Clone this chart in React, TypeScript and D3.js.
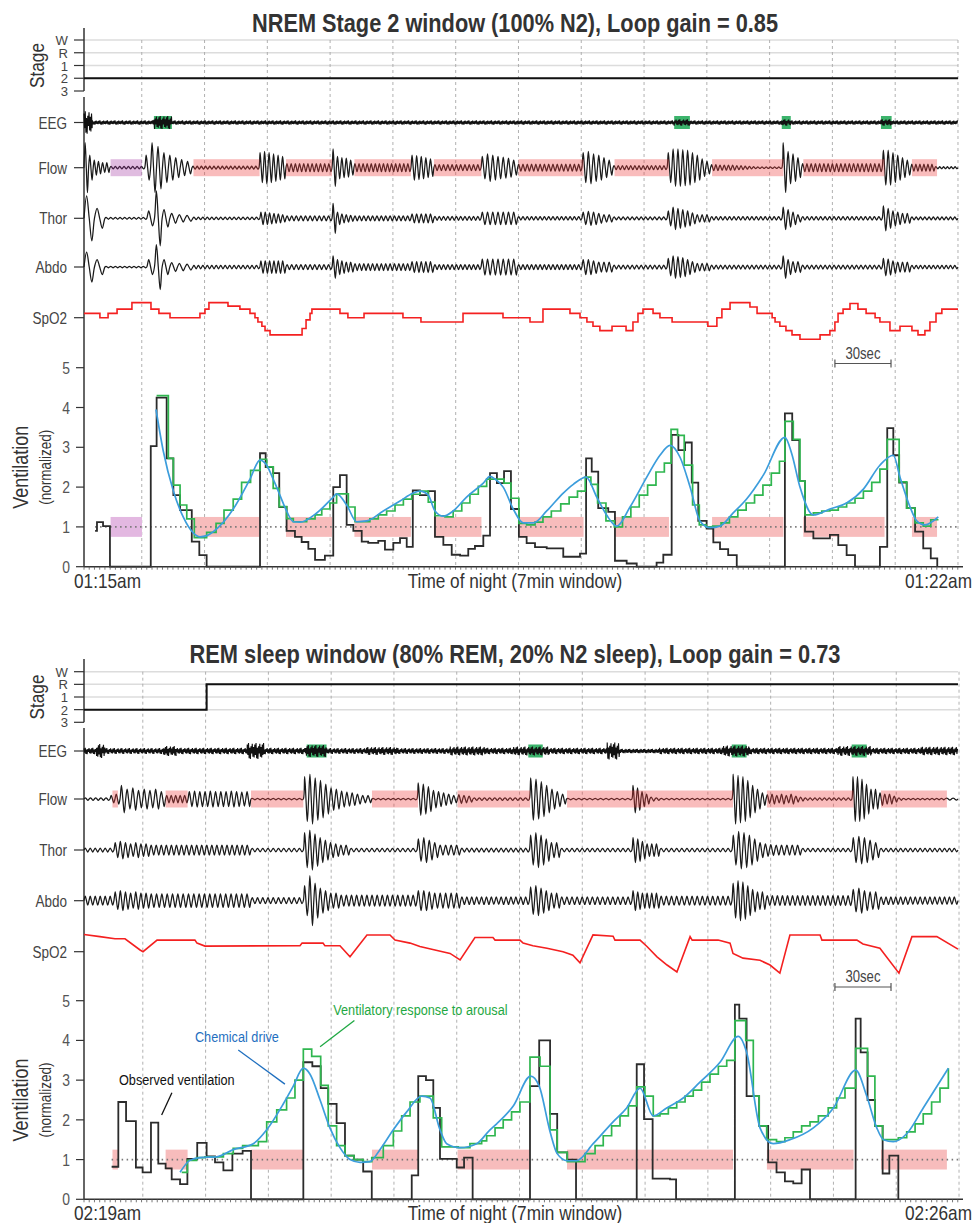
import React from 'react';
import * as d3 from 'd3';

// ---------- shared ----------
const STAGES = ['W', 'R', '1', '2', '3'];
const ROWS = ['EEG', 'Flow', 'Thor', 'Abdo', 'SpO2'];
const VENT_TICKS = [0, 1, 2, 3, 4, 5];

type Pt = [number, number];
type Seg = [number, number, number, number[]]; // start s, end s, breath period s, amplitudes
type Env = [number, number, number]; // start s, end s, amplitude

// ---------- NREM window (01:15 - 01:22) ----------
const nremTitle = 'NREM Stage 2 window (100% N2), Loop gain = 0.85';
const nremClock = ['01:15am', '01:22am'];
const nremGrid = [27.6, 57.6, 87.6, 117.6, 147.6, 177.6, 207.6, 237.6, 267.6, 297.6, 327.6, 357.6, 387.6, 417.6];
const nremStage: [number, string][] = [[0, '2'], [417.6, '2']];
const nremArousals: Pt[] = [[33.4, 42.0], [282.0, 289.5], [333.4, 337.7], [380.8, 385.9]];
const nremPurple: Pt[] = [[12.7, 27.7]];
const nremEvents: Pt[] = [[52.3, 83.9], [96.5, 118.5], [129.2, 156.2], [167.2, 189.9], [207.6, 238.7], [253.5, 279.5], [300.1, 334.2], [343.7, 382.5], [395.6, 407.6]];
const nremEEG: Env[] = [[0, 4, 0.45], [4, 33.4, 0.085], [33.4, 42, 0.26], [42, 282, 0.085], [282, 289.5, 0.13], [289.5, 333.4, 0.085], [333.4, 337.7, 0.13], [337.7, 380.8, 0.085], [380.8, 385.9, 0.13], [385.9, 417.6, 0.085]];
const nremFlow: Seg[] = [
  [0, 4.4, 2.2, [1.0, 0.5]], [4.4, 12.4, 2.2, [0.3, 0.25, 0.2]], [12.4, 29.0, 2.0, [0.05]],
  [29.0, 51.6, 2.8, [0.5, 1.0, 0.85, 0.6, 0.5, 0.4, 0.32, 0.25]], [51.6, 83.6, 2.0, [0.06]],
  [83.6, 96.5, 2.1, [0.6, 0.65, 0.6, 0.55, 0.5, 0.45]], [96.5, 118.5, 2.0, [0.16]],
  [118.5, 129.0, 2.1, [0.75, 0.45, 0.4, 0.38, 0.3]], [129.0, 156.2, 2.0, [0.16]],
  [156.2, 167.2, 2.2, [0.5, 0.48, 0.45, 0.4, 0.35]], [167.2, 189.7, 2.0, [0.12]],
  [189.7, 207.2, 2.5, [0.45, 0.55, 0.5, 0.45, 0.42, 0.38, 0.3]], [207.2, 237.9, 2.0, [0.14]],
  [237.9, 252.8, 2.4, [0.6, 0.65, 0.55, 0.5, 0.4, 0.3]], [252.8, 278.6, 2.0, [0.08]],
  [278.6, 299.4, 2.3, [0.6, 0.75, 0.75, 0.72, 0.7, 0.6, 0.5, 0.35, 0.25]],
  [299.4, 333.5, 2.0, [0.12, 0.12, 0.1, 0.1, 0.1, 0.1, 0.08, 0.08, 0.06, 0.05, 0.04, 0.03]],
  [333.5, 342.9, 2.4, [1.0, 0.65, 0.55, 0.4]], [342.9, 381.4, 2.0, [0.16]],
  [381.4, 395.1, 2.3, [0.7, 0.7, 0.6, 0.5, 0.4, 0.3]], [395.1, 406.6, 2.0, [0.14]], [406.6, 417.6, 2.0, [0.04]],
];
const nremThor: Seg[] = [
  [0, 10, 5, [0.9, 0.4]], [10, 30, 2.2, [0.04]], [30, 52, 3.4, [0.3, 1.1, 0.35, 0.2, 0.15, 0.12]],
  [52, 84, 2.2, [0.05]], [84, 96.5, 2.1, [0.25, 0.25, 0.22, 0.2, 0.18, 0.15]], [96.5, 118.5, 2.1, [0.1]],
  [118.5, 129, 2.1, [0.6, 0.25, 0.18, 0.15, 0.12]], [129, 156.2, 2.1, [0.1]], [156.2, 167.2, 2.2, [0.18]],
  [167.2, 189.7, 2.1, [0.08]], [189.7, 207.2, 2.5, [0.25]], [207.2, 237.9, 2.1, [0.07]],
  [237.9, 252.8, 2.4, [0.25, 0.28, 0.25, 0.2, 0.15]], [252.8, 278.6, 2.1, [0.06]],
  [278.6, 299.4, 2.4, [0.3, 0.45, 0.4, 0.35, 0.3, 0.22, 0.15]], [299.4, 333.5, 2.1, [0.07]],
  [333.5, 342.9, 2.4, [0.45, 0.35, 0.25, 0.15]], [342.9, 381.4, 2.1, [0.07]],
  [381.4, 395.1, 2.3, [0.5, 0.4, 0.3, 0.25, 0.2]], [395.1, 417.6, 2.1, [0.06]],
];
const nremAbdo: Seg[] = [
  [0, 10, 5, [0.6, 0.3]], [10, 30, 2.2, [0.03]], [30, 52, 3.4, [0.3, 0.9, 0.3, 0.18, 0.15, 0.12]],
  [52, 84, 2.1, [0.07]], [84, 96.5, 2.1, [0.25]], [96.5, 118.5, 2.1, [0.1]],
  [118.5, 129, 2.1, [0.45, 0.3, 0.25, 0.2]], [129, 156.2, 2.1, [0.14]], [156.2, 167.2, 2.2, [0.22]],
  [167.2, 189.7, 2.1, [0.1]], [189.7, 207.2, 2.5, [0.32]], [207.2, 237.9, 2.1, [0.1]],
  [237.9, 252.8, 2.4, [0.3, 0.3, 0.25, 0.2]], [252.8, 278.6, 2.1, [0.08]],
  [278.6, 299.4, 2.4, [0.35, 0.45, 0.42, 0.38, 0.3, 0.22, 0.15]], [299.4, 333.5, 2.1, [0.08]],
  [333.5, 342.9, 2.4, [0.45, 0.3, 0.22]], [342.9, 381.4, 2.1, [0.08]],
  [381.4, 395.1, 2.3, [0.35, 0.32, 0.25, 0.2]], [395.1, 417.6, 2.1, [0.07]],
];
const nremSpO2: Pt[] = [[0, 95], [7.6, 94], [11.5, 95], [15.8, 96], [22.9, 97.5], [32.0, 96], [35.8, 95], [41.1, 94], [55.4, 95], [57.8, 96], [59.7, 97.5], [68.8, 96.7], [74.5, 96], [79.3, 95], [81.7, 94], [83.1, 93], [85.0, 92], [86.5, 91], [88.9, 90], [104.2, 91.5], [106.1, 93.5], [108.0, 95], [108.9, 96], [122.3, 95], [126.1, 94], [133.8, 95], [152.4, 94], [161.0, 93], [181.1, 95], [200.2, 94], [213.1, 93], [219.3, 96], [232.2, 95], [237.0, 94], [240.3, 93], [243.2, 92], [246.5, 91], [252.3, 92], [259.0, 91], [262.3, 93], [264.7, 95], [267.1, 96], [271.9, 95], [275.2, 94], [281.0, 93], [298.1, 92], [302.4, 94], [304.8, 96], [308.7, 97.5], [318.2, 96.5], [321.6, 95], [328.8, 94], [330.2, 93], [332.5, 92], [335.4, 91], [338.3, 90], [342.1, 89], [351.7, 90], [356.4, 91], [358.8, 93], [360.3, 95], [362.7, 96], [366.0, 97.3], [369.8, 96], [373.7, 95], [378.0, 94], [380.3, 93], [385.1, 91], [389.9, 92], [395.6, 91], [398.5, 90], [401.8, 91], [404.2, 93], [407.1, 95], [409.9, 96], [417.6, 96]];
const nremObserved: Pt[] = [[5.3, 0.9], [6.2, 1.12], [9.1, 1.02], [12.4, 0], [31.9, 3.03], [34.7, 4.25], [39.5, 2.72], [42.7, 1.8], [45.9, 1.42], [51.5, 0.63], [55.1, 0.29], [58.6, 0], [84.1, 2.85], [86.8, 2.5], [90.4, 2.35], [93.3, 1.5], [96.8, 0.9], [100.8, 0.75], [104.0, 0.62], [107.2, 0.45], [110.4, 0.17], [115.1, 0.28], [119.1, 2.0], [122.3, 2.3], [125.5, 1.05], [128.7, 0.9], [132.7, 0.63], [135.8, 0.6], [140.6, 0.65], [143.8, 0.43], [147.8, 0.6], [151.0, 0.72], [154.2, 0.5], [157.1, 1.92], [160.5, 1.8], [164.5, 1.9], [167.7, 0.75], [171.7, 0.55], [175.7, 0.3], [179.7, 0.28], [183.6, 0.45], [186.8, 0.52], [190.8, 0.78], [194.0, 2.35], [197.3, 2.1], [200.7, 2.4], [204.0, 1.45], [207.8, 0.75], [211.5, 0.59], [215.5, 0.49], [221.1, 0.46], [229.0, 0.25], [237.0, 0.33], [239.9, 2.72], [242.6, 2.39], [245.7, 1.47], [250.5, 1.38], [253.7, 0.15], [259.3, 0.08], [264.1, 0], [273.6, 0.1], [276.8, 0.3], [280.8, 3.31], [284.0, 2.93], [287.2, 3.12], [290.4, 2.11], [293.5, 1.15], [297.5, 0.96], [300.7, 0.61], [303.9, 0.44], [307.8, 0.29], [311.9, 0], [334.9, 3.85], [338.4, 3.18], [341.8, 2.15], [344.5, 0.88], [348.5, 0.71], [356.4, 0.8], [360.4, 0.54], [364.4, 0.29], [368.4, 0], [380.3, 0.5], [383.8, 3.48], [386.7, 2.8], [389.5, 2.11], [393.1, 1.47], [397.1, 0.88], [401.0, 0.46], [404.6, 0.21], [407.7, 0]];
const nremResponse: Pt[] = [[34.7, 4.3], [40.3, 2.72], [42.7, 2.05], [45.9, 1.55], [49.1, 1.2], [52.7, 0.73], [58.6, 0.86], [63.1, 1.09], [66.9, 1.42], [71.3, 1.7], [75.3, 2.12], [79.6, 2.42], [84.1, 2.7], [87.3, 2.51], [90.4, 1.97], [93.3, 1.51], [96.8, 1.21], [100.0, 1.13], [106.4, 1.2], [110.4, 1.3], [113.6, 1.45], [117.5, 1.6], [120.7, 1.83], [126.3, 1.5], [129.5, 1.13], [136.6, 1.2], [140.6, 1.3], [144.6, 1.4], [148.6, 1.55], [152.6, 1.7], [156.6, 1.82], [160.5, 1.9], [164.5, 1.62], [167.7, 1.28], [172.5, 1.25], [176.4, 1.4], [180.5, 1.6], [184.4, 1.82], [188.4, 2.02], [192.4, 2.2], [200.7, 2.1], [204.0, 1.72], [207.8, 1.09], [211.5, 1.05], [215.5, 1.12], [219.3, 1.25], [223.3, 1.4], [227.8, 1.58], [231.8, 1.75], [235.8, 1.9], [239.5, 2.25], [242.2, 2.07], [245.4, 1.6], [249.4, 1.15], [253.4, 1.0], [257.3, 1.25], [261.3, 1.5], [265.3, 1.8], [269.3, 2.05], [273.3, 2.38], [277.3, 2.6], [280.5, 3.45], [283.6, 3.3], [286.8, 2.55], [290.8, 1.55], [294.0, 1.05], [297.2, 1.0], [300.4, 1.02], [304.4, 1.1], [308.4, 1.25], [312.4, 1.42], [316.4, 1.6], [320.4, 1.8], [324.4, 2.05], [328.4, 2.35], [332.3, 2.65], [334.9, 3.65], [338.9, 3.2], [342.1, 2.15], [344.5, 1.3], [348.5, 1.35], [352.5, 1.4], [356.4, 1.42], [360.4, 1.5], [364.4, 1.6], [368.4, 1.72], [372.4, 1.9], [376.4, 2.12], [380.3, 2.45], [383.8, 3.2], [389.5, 2.13], [393.1, 1.47], [397.1, 1.1], [401.0, 1.02], [404.6, 1.18], [408.3, 1.18]];
const nremChemical: Pt[] = [[34.4, 3.95], [37.9, 2.9], [42.7, 1.9], [47.4, 1.25], [52.2, 0.85], [55.4, 0.75], [58.6, 0.78], [63.4, 0.95], [71.3, 1.45], [79.3, 2.2], [84.1, 2.68], [87.3, 2.55], [90.4, 2.2], [93.6, 1.8], [96.8, 1.4], [100.0, 1.13], [103.2, 1.12], [111.2, 1.35], [119.1, 1.75], [120.7, 1.83], [125.5, 1.55], [130.3, 1.13], [135.1, 1.15], [143.0, 1.4], [151.0, 1.65], [157.3, 1.85], [160.5, 1.9], [164.5, 1.8], [167.7, 1.4], [171.7, 1.27], [176.4, 1.4], [182.8, 1.75], [190.8, 2.1], [194.0, 2.27], [196.4, 2.2], [200.3, 2.0], [205.1, 1.45], [209.9, 1.1], [214.7, 1.1], [221.1, 1.4], [229.0, 1.85], [233.8, 2.07], [239.9, 2.25], [245.0, 1.75], [249.7, 1.3], [254.5, 1.02], [260.9, 1.5], [268.9, 2.25], [275.2, 2.8], [280.0, 3.05], [284.8, 2.75], [289.6, 2.0], [294.3, 1.15], [299.1, 0.98], [303.9, 1.02], [310.2, 1.35], [316.6, 1.7], [324.6, 2.3], [334.9, 3.25], [338.1, 2.85], [342.1, 2.0], [348.5, 1.3], [356.4, 1.45], [364.4, 1.6], [372.4, 1.95], [380.3, 2.55], [386.7, 2.8], [389.9, 2.25], [394.7, 1.5], [397.9, 1.15], [401.8, 1.05], [408.2, 1.25]];

// ---------- REM window (02:19 - 02:26) ----------
const remTitle = 'REM sleep window (80% REM, 20% N2 sleep), Loop gain = 0.73';
const remClock = ['02:19am', '02:26am'];
const remGrid = [28.1, 58.1, 88.1, 118.1, 148.1, 178.1, 208.1, 238.1, 268.1, 298.1, 328.1, 358.1, 388.1, 418.1];
const remStage: [number, string][] = [[0, '2'], [58.6, 'R'], [417.6, 'R']];
const remArousals: Pt[] = [[106.4, 115.9], [212.3, 219.2], [309.5, 316.6], [366.8, 374.0]];
const remPurple: Pt[] = [];
const remEvents: Pt[] = [[13.6, 16.2], [39.0, 49.5], [79.8, 104.8], [137.6, 159.6], [178.5, 213.1], [230.8, 310.1], [326.3, 367.7], [380.8, 412.3]];
const remEEG: Env[] = [[0, 6, 0.13], [6, 10, 0.28], [10, 38, 0.12], [38, 44, 0.2], [44, 78, 0.13], [78, 86, 0.32], [86, 106, 0.13], [106, 116, 0.24], [116, 135, 0.12], [135, 150, 0.16], [150, 175, 0.12], [175, 192, 0.18], [192, 205, 0.13], [205, 222, 0.18], [222, 250, 0.13], [250, 256, 0.34], [256, 275, 0.09], [275, 305, 0.13], [305, 318, 0.22], [318, 360, 0.13], [360, 376, 0.2], [376, 400, 0.13], [400, 417.6, 0.17]];
const remFlow: Seg[] = [
  [0, 12.4, 2.5, [0.05]], [12.4, 17.2, 2.4, [0.15, 0.2]],
  [17.2, 39.0, 2.6, [0.55, 0.4, 0.45, 0.35, 0.4, 0.35, 0.4, 0.3]], [39.0, 49.7, 2.2, [0.15]],
  [49.7, 79.8, 2.5, [0.3, 0.32, 0.3, 0.3, 0.32, 0.3, 0.3, 0.3, 0.32, 0.3, 0.28, 0.3]], [79.8, 104.8, 2.5, [0.03]],
  [104.8, 137.6, 2.6, [0.9, 1.0, 0.85, 0.75, 0.6, 0.45, 0.4, 0.32, 0.28, 0.25, 0.2, 0.15]], [137.6, 159.1, 2.5, [0.03]],
  [159.1, 178.5, 2.4, [0.65, 0.6, 0.5, 0.35, 0.3, 0.25, 0.2, 0.15]], [178.5, 212.8, 2.4, [0.18, 0.15, 0.12, 0.05]],
  [212.8, 230.6, 2.5, [0.85, 0.8, 0.7, 0.55, 0.4, 0.3, 0.2]], [230.6, 261.8, 2.5, [0.03]],
  [261.8, 270.4, 2.2, [0.55, 0.45, 0.3, 0.2]], [270.4, 309.6, 2.5, [0.08, 0.05, 0.03]],
  [309.6, 325.9, 2.3, [1.0, 0.95, 0.9, 0.75, 0.55, 0.4, 0.25]],
  [325.9, 366.9, 2.3, [0.18, 0.2, 0.15, 0.2, 0.15, 0.2, 0.12, 0.08, 0.05]],
  [366.9, 379.8, 2.3, [0.9, 0.9, 0.8, 0.6, 0.4]], [379.8, 411.4, 2.3, [0.25, 0.2, 0.2, 0.12, 0.05, 0.03]],
  [411.4, 417.6, 2.5, [0.04]],
];
const remThor: Seg[] = [
  [0, 14.3, 2.4, [0.08]], [14.3, 31.5, 2.6, [0.3, 0.35, 0.3, 0.25, 0.3, 0.25]], [31.5, 79.8, 2.4, [0.2]],
  [79.8, 104.8, 2.4, [0.07]], [104.8, 127.1, 2.6, [0.7, 0.8, 0.65, 0.5, 0.4, 0.3, 0.25, 0.2]],
  [127.1, 159.1, 2.4, [0.07]], [159.1, 180, 2.5, [0.45, 0.5, 0.4, 0.3, 0.2]], [180, 212.8, 2.4, [0.08]],
  [212.8, 227.7, 2.5, [0.6, 0.7, 0.6, 0.45, 0.3]], [227.7, 261.8, 2.4, [0.07]],
  [261.8, 275.2, 2.4, [0.5, 0.45, 0.35, 0.25]], [275.2, 309.6, 2.4, [0.07]],
  [309.6, 342.9, 2.5, [0.6, 0.75, 0.7, 0.6, 0.45, 0.3, 0.25, 0.22, 0.2]], [342.9, 366.9, 2.4, [0.07]],
  [366.9, 380.3, 2.5, [0.5, 0.55, 0.5, 0.4, 0.3]], [380.3, 417.6, 2.4, [0.07]],
];
const remAbdo: Seg[] = [
  [0, 14.3, 2.4, [0.18]], [14.3, 31.5, 2.6, [0.35, 0.4, 0.35, 0.3, 0.35, 0.3]], [31.5, 79.8, 2.5, [0.27]],
  [79.8, 104.8, 2.4, [0.12]], [104.8, 122.3, 2.6, [0.6, 1.0, 0.7, 0.5, 0.4, 0.3]], [122.3, 159.1, 2.5, [0.22]],
  [159.1, 180, 2.5, [0.4, 0.4, 0.35, 0.3]], [180, 212.8, 2.4, [0.15]],
  [212.8, 227.7, 2.5, [0.55, 0.6, 0.5, 0.4, 0.3]], [227.7, 261.8, 2.4, [0.15]],
  [261.8, 275.2, 2.4, [0.4, 0.35, 0.3]], [275.2, 309.6, 2.4, [0.18]],
  [309.6, 325.9, 2.5, [0.7, 0.8, 0.75, 0.6, 0.45, 0.35]], [325.9, 366.9, 2.4, [0.2]],
  [366.9, 380.3, 2.5, [0.45, 0.5, 0.4, 0.35]], [380.3, 417.6, 2.4, [0.15]],
];
const remSpO2: Pt[] = [[0, 98.0], [7.6, 97.5], [14.8, 97.0], [19.6, 97.0], [26.8, 94.4], [28.2, 94.0], [34.9, 96.7], [53.0, 96.7], [54.0, 96.0], [57.8, 95.3], [103.2, 95.4], [104.2, 96.0], [114.2, 96.0], [115.1, 95.4], [122.3, 95.4], [127.1, 92.8], [135.2, 97.9], [146.2, 97.9], [148.6, 96.7], [155.8, 96.0], [160.5, 95.2], [167.7, 94.4], [174.9, 93.6], [179.7, 92.1], [186.8, 97.3], [195.4, 97.3], [196.4, 96.7], [208.3, 96.7], [209.8, 96.0], [214.5, 95.4], [221.2, 94.8], [228.9, 94.0], [233.6, 93.2], [237.0, 91.4], [243.2, 97.9], [252.8, 97.6], [253.7, 96.7], [265.7, 96.7], [269.0, 95.2], [273.8, 92.8], [278.6, 90.9], [283.3, 89.3], [289.6, 97.5], [290.6, 96.7], [303.0, 96.7], [308.7, 96.0], [310.1, 93.6], [314.9, 92.5], [323.0, 92.0], [327.8, 90.9], [332.5, 89.0], [337.3, 97.9], [351.7, 97.9], [352.6, 96.7], [369.3, 96.7], [372.2, 95.8], [380.3, 94.8], [389.4, 89.0], [395.6, 97.5], [407.5, 97.5], [417.6, 94.6]];
const remObserved: Pt[] = [[13.2, 0.82], [16.4, 2.45], [20.1, 1.97], [24.8, 0.8], [28.0, 0.68], [32.0, 1.93], [35.5, 0.9], [39.0, 0.78], [41.9, 0.5], [45.9, 0.38], [49.4, 1.02], [54.1, 1.42], [58.6, 1.08], [62.6, 0.93], [66.6, 0.73], [70.9, 1.15], [75.8, 1.22], [79.8, 0], [104.8, 3.45], [109.1, 3.35], [113.1, 2.8], [116.7, 2.4], [120.7, 1.92], [124.7, 1.1], [129.0, 1.0], [133.4, 0.7], [137.5, 0], [156.6, 0.6], [159.7, 3.1], [163.4, 3.0], [166.9, 2.3], [170.1, 1.02], [178.1, 0.8], [181.6, 1.05], [185.7, 0], [213.1, 2.85], [217.5, 4.0], [222.7, 2.15], [226.1, 1.18], [230.9, 1.0], [235.1, 0], [264.1, 3.4], [267.6, 2.02], [271.7, 0.52], [280.0, 0.5], [282.9, 0], [311.0, 4.9], [313.1, 4.55], [316.6, 2.6], [322.6, 1.85], [326.9, 0.93], [330.9, 0.68], [334.9, 0.45], [338.9, 0.4], [342.9, 0.75], [346.9, 0], [368.7, 4.55], [371.1, 3.7], [374.4, 2.5], [377.9, 1.85], [381.6, 0.65], [384.8, 1.1], [389.1, 0]];
const remResponse: Pt[] = [[46.7, 0.68], [49.4, 0.98], [53.8, 1.05], [57.8, 1.07], [66.6, 1.15], [71.3, 1.28], [75.8, 1.35], [83.3, 1.45], [87.3, 1.95], [92.1, 2.25], [96.8, 2.55], [100.8, 3.0], [104.8, 3.78], [108.8, 3.6], [113.1, 2.87], [116.7, 1.85], [120.7, 1.35], [124.7, 1.1], [129.0, 1.0], [133.4, 0.95], [137.5, 1.05], [143.0, 1.35], [147.8, 1.72], [151.8, 2.1], [155.8, 2.45], [160.5, 2.6], [166.9, 2.05], [170.9, 1.32], [178.8, 1.3], [184.4, 1.4], [190.0, 1.47], [192.4, 1.6], [196.4, 1.8], [200.3, 2.0], [204.3, 2.2], [208.3, 2.45], [213.1, 3.58], [217.9, 3.35], [222.7, 1.75], [226.1, 1.18], [230.9, 0.95], [239.4, 1.15], [244.2, 1.35], [248.1, 1.6], [252.1, 1.85], [256.1, 2.1], [260.1, 2.35], [264.1, 2.83], [268.0, 2.6], [272.0, 2.1], [275.2, 2.15], [279.2, 2.3], [283.2, 2.45], [287.2, 2.6], [291.1, 2.75], [295.1, 2.95], [299.1, 3.15], [303.1, 3.35], [307.1, 3.5], [311.0, 4.5], [316.2, 4.0], [319.8, 2.6], [322.6, 1.85], [326.2, 1.5], [330.9, 1.45], [334.9, 1.55], [338.9, 1.7], [342.9, 1.85], [346.9, 1.95], [350.9, 2.1], [355.6, 2.3], [359.6, 2.55], [363.6, 2.8], [368.7, 3.8], [374.4, 3.1], [377.9, 1.85], [381.6, 1.5], [389.1, 1.55], [393.1, 1.7], [397.1, 1.9], [401.0, 2.15], [405.0, 2.45], [409.0, 2.8], [413.0, 3.3]];
const remChemical: Pt[] = [[45.9, 0.68], [50.6, 0.98], [55.4, 1.05], [63.4, 1.07], [71.3, 1.25], [80.9, 1.4], [87.3, 1.75], [95.2, 2.4], [100.0, 2.85], [104.8, 3.3], [108.0, 3.15], [112.8, 2.5], [117.5, 1.8], [122.3, 1.3], [127.1, 1.0], [131.9, 0.93], [136.6, 0.95], [141.4, 1.25], [147.8, 1.75], [154.2, 2.2], [161.3, 2.6], [165.3, 2.55], [170.1, 1.75], [173.3, 1.4], [179.7, 1.3], [187.6, 1.4], [194.0, 1.75], [197.2, 1.9], [205.1, 2.35], [213.4, 3.1], [217.5, 2.85], [222.7, 1.7], [226.1, 1.15], [230.9, 0.97], [235.3, 0.97], [243.3, 1.4], [252.8, 1.95], [259.3, 2.3], [265.7, 2.8], [272.0, 2.1], [278.4, 2.3], [286.3, 2.55], [294.3, 2.95], [303.9, 3.45], [312.6, 4.1], [316.6, 3.7], [323.0, 1.8], [329.3, 1.4], [337.3, 1.5], [348.5, 1.8], [358.1, 2.3], [368.7, 3.25], [374.0, 2.6], [378.8, 1.8], [382.0, 1.5], [386.7, 1.45], [393.1, 1.65], [401.0, 2.3], [413.0, 3.3]];
// annotation callouts: label, text start (s, vent), pointer from, pointer to
const remNotes: { label: string; color: string; at: Pt; from: Pt; to: Pt }[] = [
  { label: 'Ventilatory response to arousal', color: '#1fa843', at: [119.1, 4.64], from: [129.2, 4.5], to: [112.8, 3.84] },
  { label: 'Chemical drive', color: '#1f6fbf', at: [53.0, 3.97], from: [73.7, 3.76], to: [96.0, 2.9] },
  { label: 'Observed ventilation', color: '#111', at: [16.7, 2.88], from: [42.0, 2.68], to: [37.1, 2.12] },
];
const scaleBar: Pt = [358.8, 385.6];

// ---------- layout (pixels) ----------
const LAYOUTS = [
  { title: 32, stageTop: 40, stageBot: 91, stageAxisTop: 28, rows: [122.5, 167.7, 218.3, 267, 317.7], traceTop: 97, v0: 566.7, v5: 367.7, bar: 363.5, xlab: 588, titleW: 526 },
  { title: 662.5, stageTop: 671.7, stageBot: 722.3, stageAxisTop: 659, rows: [751, 799, 850, 900.7, 951.7], traceTop: 728, v0: 1199.3, v5: 1000.7, bar: 987, xlab: 1220, titleW: 651 },
];

const FONT = "'Liberation Sans', Arial, sans-serif";
const NARROW = 0.82; // the figure uses a condensed face
const x = d3.scaleLinear().domain([0, 420]).range([84, 963]);

const EEG_SHAPE = [0.8, -0.5, 1, -0.9, 0.4, -1, 0.6, -0.3, 0.9, -0.7, 0.5, -0.8];

function breathPts(segs: Seg[]): Pt[] {
  const pts: Pt[] = [];
  for (const [t0, t1, p, amps] of segs) {
    const n = Math.max(1, Math.round((t1 - t0) / p));
    const d = (t1 - t0) / n;
    for (let i = 0; i < n; i++) {
      const a = amps[Math.min(i, amps.length - 1)];
      const s = t0 + i * d;
      pts.push([s, 0], [s + d * 0.25, a], [s + d * 0.5, 0], [s + d * 0.75, -a]);
    }
  }
  pts.push([segs[segs.length - 1][1], 0]);
  return pts;
}

function eegPts(env: Env[]): Pt[] {
  const pts: Pt[] = [];
  let k = 0;
  for (const [t0, t1, a] of env) {
    for (let t = t0; t < t1; t += 0.3) {
      pts.push([t, a * EEG_SHAPE[k % EEG_SHAPE.length]]);
      k++;
    }
  }
  return pts;
}

// condensed text
function T({ x, y, rot = 0, anchor = 'start', size, fill = '#333', weight, len, sy = 1, children }: any) {
  return (
    <text transform={`translate(${x},${y}) rotate(${rot}) scale(${NARROW},${sy})`} textAnchor={anchor} fontSize={size}
      fill={fill} fontWeight={weight} textLength={len ? len / NARROW : undefined} lengthAdjust={len ? 'spacingAndGlyphs' : undefined}>
      {children}
    </text>
  );
}

function Panel({ L, d }: { L: any; d: any }) {
  const yS = d3.scalePoint<string>().domain(STAGES).range([L.stageTop, L.stageBot]);
  const yV = d3.scaleLinear().domain([0, 5]).range([L.v0, L.v5]);
  const rowScale = (i: number) => d3.scaleLinear().domain([-1, 1]).range([L.rows[i] + 25, L.rows[i] - 25]);
  const ySp = d3.scaleLinear().domain([94, 100]).range([L.rows[4], L.rows[4] - 25.8]);

  const rowLine = (i: number) => d3.line<Pt>().x(p => x(p[0])).y(p => rowScale(i)(p[1])).curve(d3.curveCatmullRom.alpha(0.5));
  const eegLine = d3.line<Pt>().x(p => x(p[0])).y(p => rowScale(0)(p[1]));
  const spLine = d3.line<Pt>().x(p => x(p[0])).y(p => ySp(p[1])).curve(d.spStep ? d3.curveStepAfter : d3.curveLinear);
  const stageLine = d3.line<[number, string]>().x(p => x(p[0])).y(p => yS(p[1]) as number).curve(d3.curveStepAfter);
  const stepV = d3.line<Pt>().x(p => x(p[0])).y(p => yV(p[1])).curve(d3.curveStepAfter);
  const smoothV = d3.line<Pt>().x(p => x(p[0])).y(p => yV(p[1])).curve(d3.curveMonotoneX);
  const flowY = rowScale(1);
  const eegY = rowScale(0);
  const vMid = (L.v0 + L.v5) / 2;

  return (
    <g fontFamily={FONT}>
      <T x={515} y={L.title} anchor="middle" size={25} weight="bold" len={L.titleW}>{d.title}</T>

      {/* stage grid */}
      {STAGES.slice(0, 4).map(s => (
        <line key={s} x1={x(0)} x2={x(417.6)} y1={yS(s)} y2={yS(s)} stroke="#dcdcdc" strokeWidth={1.5} />
      ))}
      {/* time grid */}
      {d.grid.map((t: number) => (
        <line key={t} x1={x(t)} x2={x(t)} y1={L.stageTop} y2={L.v0} stroke="#a8a8a8" strokeWidth={0.9} strokeDasharray="3,3" />
      ))}

      {/* stage axis */}
      <line x1={84} x2={84} y1={L.stageAxisTop} y2={L.stageBot} stroke="#333" strokeWidth={1.5} />
      {STAGES.map(s => (
        <g key={s}>
          <line x1={74} x2={84} y1={yS(s)} y2={yS(s)} stroke="#333" strokeWidth={1.2} />
          <T x={68} y={yS(s) + 5} anchor="end" size={16} sy={0.85} fill="#444">{s}</T>
        </g>
      ))}
      <T x={44} y={(L.stageTop + L.stageBot) / 2} rot={-90} anchor="middle" size={21}>Stage</T>
      <path d={stageLine(d.stage) as string} fill="none" stroke="#111" strokeWidth={2} />

      {/* trace axis */}
      <line x1={84} x2={84} y1={L.traceTop} y2={L.v0} stroke="#333" strokeWidth={1.5} />
      {ROWS.map((r, i) => (
        <g key={r}>
          <line x1={74} x2={84} y1={L.rows[i]} y2={L.rows[i]} stroke="#333" strokeWidth={1.2} />
          <T x={67} y={L.rows[i] + 6} anchor="end" size={16.5} fill="#444">{r}</T>
        </g>
      ))}

      {/* arousal markers on EEG */}
      {d.arousals.map(([a, b]: Pt, i: number) => (
        <rect key={i} x={x(a)} width={x(b) - x(a)} y={eegY(0.26)} height={eegY(-0.26) - eegY(0.26)} fill="#3cb46c" />
      ))}
      <path d={eegLine(eegPts(d.eeg)) as string} fill="none" stroke="#111" strokeWidth={1.1} />
      <path d={rowLine(1)(breathPts(d.flow)) as string} fill="none" stroke="#1a1a1a" strokeWidth={1.25} />
      <path d={rowLine(2)(breathPts(d.thor)) as string} fill="none" stroke="#1a1a1a" strokeWidth={1.25} />
      <path d={rowLine(3)(breathPts(d.abdo)) as string} fill="none" stroke="#1a1a1a" strokeWidth={1.25} />
      <path d={spLine(d.spo2) as string} fill="none" stroke="#f42020" strokeWidth={1.6} />

      {/* scored events over flow */}
      {d.purple.map(([a, b]: Pt, i: number) => (
        <rect key={'p' + i} x={x(a)} width={x(b) - x(a)} y={flowY(0.34)} height={flowY(-0.34) - flowY(0.34)} fill="#a030a0" opacity={0.32} />
      ))}
      {d.events.map(([a, b]: Pt, i: number) => (
        <rect key={'e' + i} x={x(a)} width={x(b) - x(a)} y={flowY(0.34)} height={flowY(-0.34) - flowY(0.34)} fill="#ee4040" opacity={0.35} />
      ))}

      {/* 30 sec bar */}
      <g stroke="#555" strokeWidth={1.2}>
        <line x1={x(scaleBar[0])} x2={x(scaleBar[1])} y1={L.bar} y2={L.bar} />
        <line x1={x(scaleBar[0])} x2={x(scaleBar[0])} y1={L.bar - 4} y2={L.bar + 4} />
        <line x1={x(scaleBar[1])} x2={x(scaleBar[1])} y1={L.bar - 4} y2={L.bar + 4} />
      </g>
      <T x={(x(scaleBar[0]) + x(scaleBar[1])) / 2} y={L.bar - 5} anchor="middle" size={16} fill="#444">30sec</T>

      {/* ventilation panel */}
      {d.purple.map(([a, b]: Pt, i: number) => (
        <rect key={'vp' + i} x={x(a)} width={x(b) - x(a)} y={yV(1.25)} height={yV(0.75) - yV(1.25)} fill="#e3b8e1" />
      ))}
      {d.events.map(([a, b]: Pt, i: number) => (
        <rect key={'ve' + i} x={x(a)} width={x(b) - x(a)} y={yV(1.25)} height={yV(0.75) - yV(1.25)} fill="#f7bcbc" />
      ))}
      <line x1={x(d.observed[0][0])} x2={x(417.6)} y1={yV(1)} y2={yV(1)} stroke="#777" strokeWidth={1.6} strokeDasharray="1.5,3.5" />
      <path d={stepV(d.observed) as string} fill="none" stroke="#2b2b2b" strokeWidth={1.8} />
      <path d={stepV(d.response) as string} fill="none" stroke="#2fb64f" strokeWidth={1.7} />
      <path d={smoothV(d.chemical) as string} fill="none" stroke="#3c9ddc" strokeWidth={1.7} />

      {VENT_TICKS.map(v => (
        <g key={v}>
          <line x1={76} x2={84} y1={yV(v)} y2={yV(v)} stroke="#333" strokeWidth={1.2} />
          <T x={70} y={yV(v) + 6} anchor="end" size={17} fill="#555">{v}</T>
        </g>
      ))}
      <line x1={84} x2={963} y1={L.v0} y2={L.v0} stroke="#333" strokeWidth={1.5} />
      {d3.range(0, 420, 2.5).map(t => (
        <line key={t} x1={x(t)} x2={x(t)} y1={L.v0} y2={L.v0 + 3} stroke="#555" strokeWidth={0.8} />
      ))}
      <T x={28} y={vMid} rot={-90} anchor="middle" size={22}>Ventilation</T>
      <T x={51} y={vMid} rot={-90} anchor="middle" size={16.5}>(normalized)</T>
      <T x={74} y={L.xlab} size={21}>{d.clock[0]}</T>
      <T x={515} y={L.xlab} anchor="middle" size={21}>Time of night (7min window)</T>
      <T x={972} y={L.xlab} anchor="end" size={21}>{d.clock[1]}</T>

      {d.notes.map((n: any) => (
        <g key={n.label}>
          <T x={x(n.at[0])} y={yV(n.at[1])} size={15.5} fill={n.color}>{n.label}</T>
          <line x1={x(n.from[0])} y1={yV(n.from[1])} x2={x(n.to[0])} y2={yV(n.to[1])} stroke={n.color} strokeWidth={1.3} />
        </g>
      ))}
    </g>
  );
}

const PANELS = [
  { title: nremTitle, clock: nremClock, grid: nremGrid, stage: nremStage, arousals: nremArousals, purple: nremPurple, events: nremEvents, eeg: nremEEG, flow: nremFlow, thor: nremThor, abdo: nremAbdo, spo2: nremSpO2, spStep: true, observed: nremObserved, response: nremResponse, chemical: nremChemical, notes: [] },
  { title: remTitle, clock: remClock, grid: remGrid, stage: remStage, arousals: remArousals, purple: remPurple, events: remEvents, eeg: remEEG, flow: remFlow, thor: remThor, abdo: remAbdo, spo2: remSpO2, spStep: false, observed: remObserved, response: remResponse, chemical: remChemical, notes: remNotes },
];

export default function App() {
  return (
    <svg width={973} height={1223} style={{ position: 'absolute', left: 0, top: 0, background: '#fff' }}>
      <rect width={973} height={1223} fill="#fff" />
      {PANELS.map((p, i) => <Panel key={i} L={LAYOUTS[i]} d={p} />)}
    </svg>
  );
}
